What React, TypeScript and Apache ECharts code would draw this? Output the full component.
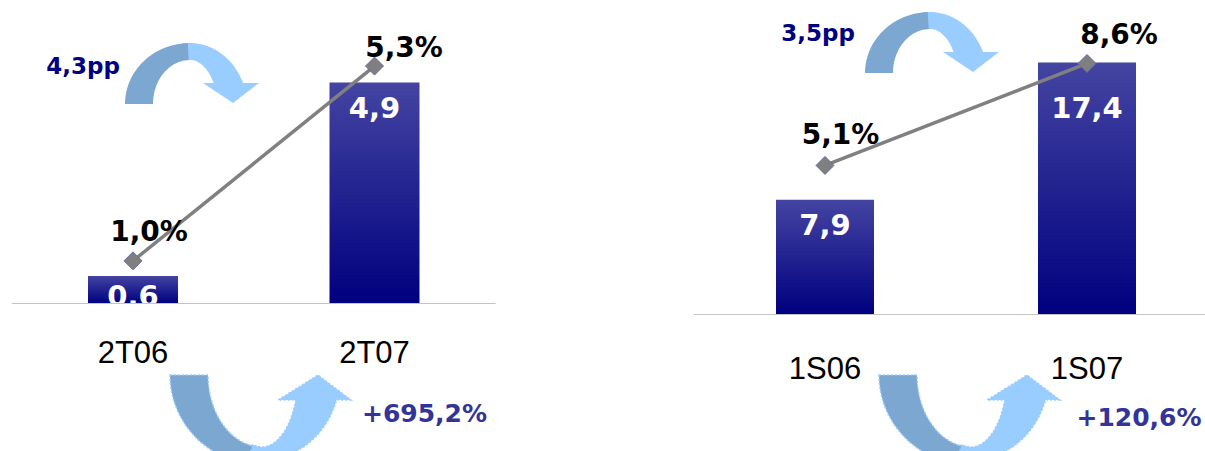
import React, { useEffect, useRef } from 'react';
import * as echarts from 'echarts';

// ---- data ----
const categoriesA = ['2T06', '2T07'];
const barsA = [0.6, 4.9];
const ratioA = [1.0, 5.3];
const categoriesB = ['1S06', '1S07'];
const barsB = [7.9, 17.4];
const ratioB = [5.1, 8.6];
const ppLabels = ['4,3pp', '3,5pp'];
const growthLabels = ['+695,2%', '+120,6%'];

// ---- label placement (styles, not data) ----
const barLabelDyA = [0, 6];
const barLabelDyB = [6, 26];
const lineLabelOffA = [[16, -29], [29.5, -19]];
const lineLabelOffB = [[15.5, -30.5], [32, -28.5]];

const fmt = (v: number) => v.toFixed(1).replace('.', ',');

const DARK = '#7BA7D0';
const LIGHT = '#99CCFF';

function arc(cx: number, cy: number, rx: number, ry: number, t0: number, t1: number, n = 28) {
  const pts: number[][] = [];
  for (let i = 0; i <= n; i++) {
    const t = ((t0 + ((t1 - t0) * i) / n) * Math.PI) / 180;
    pts.push([cx + rx * Math.cos(t), cy + ry * Math.sin(t)]);
  }
  return pts;
}

const topDark = [...arc(65, 61, 65, 61, 180, 268), ...arc(65, 61, 37, 44, 268, 180)];
const topLight = [
  ...arc(65, 67, 58, 67, 262, 336.2),
  [134, 40],
  [108, 60],
  [78, 40],
  ...arc(65, 67, 28, 50, 327.3, 262),
];
const botDark = [...arc(92, 0, 92, 90, 180, 100), ...arc(92, 0, 54, 72, 100, 180)];
const botLight = [
  ...arc(92, 0, 78, 85, 105, 17),
  [181, 25],
  [148, 0],
  [108, 25],
  ...arc(92, 0, 36, 72, 20.3, 105),
];

function topArrow(x: number, y: number) {
  return {
    type: 'group',
    x,
    y,
    children: [
      { type: 'polygon', shape: { points: topLight }, style: { fill: LIGHT } },
      { type: 'polygon', shape: { points: topDark }, style: { fill: DARK } },
    ],
  };
}
function bottomArrow(x: number, y: number) {
  const st = { stroke: LIGHT, lineWidth: 1.5, lineDash: [2, 2] };
  return {
    type: 'group',
    x,
    y,
    children: [
      { type: 'polygon', shape: { points: botLight }, style: { fill: LIGHT, ...st } },
      { type: 'polygon', shape: { points: botDark }, style: { fill: DARK, ...st } },
    ],
  };
}
function txt(text: string, x: number, y: number, size: number, color: string) {
  return {
    type: 'text',
    x,
    y,
    style: {
      text,
      fill: color,
      fontFamily: 'DejaVu Sans',
      fontWeight: 'bold',
      fontSize: size,
      textAlign: 'center',
      textVerticalAlign: 'middle',
    },
  };
}

const barGradient = () =>
  new echarts.graphic.LinearGradient(0, 0, 0, 1, [
    { offset: 0, color: '#4444A2' },
    { offset: 1, color: '#00007F' },
  ]);

function barSeries(idx: number, values: number[], dys: number[], width: number) {
  return {
    type: 'bar',
    xAxisIndex: idx,
    yAxisIndex: idx * 2,
    barWidth: width,
    itemStyle: { color: barGradient() },
    data: values.map((v, i) => ({
      value: v,
      label: { offset: [0, dys[i]] },
    })),
    label: {
      show: true,
      position: 'insideTop',
      distance: 5,
      color: '#FFFFFF',
      fontFamily: 'DejaVu Sans',
      fontWeight: 'bold',
      fontSize: 29,
      formatter: (p: any) => fmt(p.value),
    },
    z: 2,
  };
}

function lineSeries(idx: number, values: number[], offs: number[][]) {
  return {
    type: 'line',
    xAxisIndex: idx,
    yAxisIndex: idx * 2 + 1,
    symbol: 'diamond',
    symbolSize: 18,
    lineStyle: { color: '#808080', width: 3.5 },
    itemStyle: { color: '#7F7F7F', borderColor: '#6A6AA8', borderWidth: 1 },
    data: values.map((v, i) => ({ value: v, label: { offset: offs[i] } })),
    label: {
      show: true,
      position: 'inside',
      color: '#000000',
      fontFamily: 'DejaVu Sans',
      fontWeight: 'bold',
      fontSize: 28,
      formatter: (p: any) => fmt(p.value) + '%',
    },
    z: 4,
  };
}

function catAxis(idx: number, data: string[], margin: number) {
  return {
    type: 'category',
    gridIndex: idx,
    data,
    z: 10,
    axisLine: { show: true, lineStyle: { color: '#C4C4C4', width: 1 } },
    axisTick: { show: false },
    axisLabel: {
      margin,
      color: '#000000',
      fontFamily: 'Liberation Sans',
      fontSize: 31,
    },
  };
}

export default function App() {
  const ref = useRef<HTMLDivElement>(null);
  useEffect(() => {
    const chart = echarts.init(ref.current!, null, { renderer: 'svg' });
    chart.setOption({
      animation: false,
      backgroundColor: '#FFFFFF',
      grid: [
        { left: 12.25, width: 483, top: 33, height: 270 },
        { left: 694, width: 524, top: 25, height: 289 },
      ],
      xAxis: [catAxis(0, categoriesA, 34), catAxis(1, categoriesB, 39)],
      yAxis: [
        { type: 'value', gridIndex: 0, min: 0, max: 6, show: false },
        { type: 'value', gridIndex: 0, min: 0.07, max: 6.03, show: false },
        { type: 'value', gridIndex: 1, min: 0, max: 20, show: false },
        { type: 'value', gridIndex: 1, min: 0, max: 9.92, show: false },
      ],
      series: [
        barSeries(0, barsA, barLabelDyA, 90),
        lineSeries(0, ratioA, lineLabelOffA),
        barSeries(1, barsB, barLabelDyB, 98),
        lineSeries(1, ratioB, lineLabelOffB),
      ],
      graphic: [
        topArrow(125, 43),
        topArrow(865, 12),
        bottomArrow(170, 375),
        bottomArrow(879, 375),
        txt(ppLabels[0], 83, 66, 23, '#000080'),
        txt(ppLabels[1], 818, 33, 23, '#000080'),
        txt(growthLabels[0], 424.5, 413, 25, '#333399'),
        txt(growthLabels[1], 1139, 417, 25, '#333399'),
      ],
    });
    return () => chart.dispose();
  }, []);
  return (
    <div
      style={{
        position: 'absolute',
        left: 0,
        top: 0,
        width: 1205,
        height: 451,
        overflow: 'hidden',
      }}
    >
      <div ref={ref} style={{ width: 1240, height: 451 }} />
    </div>
  );
}
